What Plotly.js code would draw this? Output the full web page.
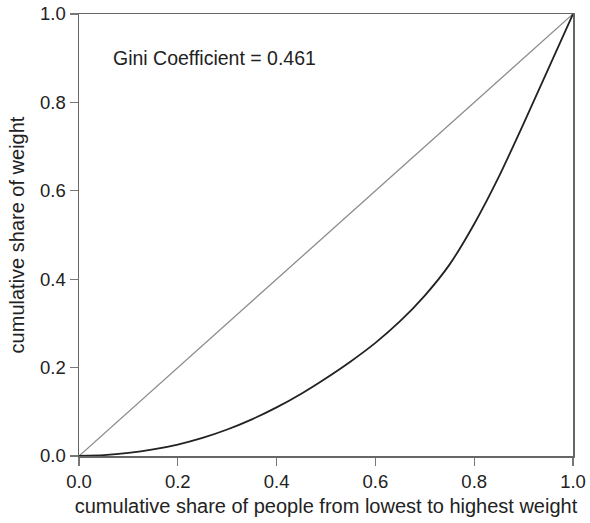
<!DOCTYPE html>
<html>
<head>
<meta charset="utf-8">
<script src="https://cdn.plot.ly/plotly-3.0.1.min.js"></script>
<style>html,body{margin:0;padding:0;background:#fff;}#chart{width:590px;height:523px;}</style>
</head>
<body>
<div id="chart"></div>
<script>
// Lorenz curve: cumulative share of people vs cumulative share of weight
const shareOfPeople = [0, 0.05, 0.1, 0.15, 0.2, 0.25, 0.3, 0.35, 0.4, 0.45, 0.5, 0.55, 0.6, 0.65, 0.7, 0.75, 0.8, 0.85, 0.9, 0.95, 1.0];
const shareOfWeight = [0, 0.002, 0.007, 0.015, 0.026, 0.041, 0.060, 0.083, 0.110, 0.141, 0.176, 0.214, 0.256, 0.305, 0.363, 0.433, 0.525, 0.632, 0.752, 0.876, 1.0];
const equalityX = [0, 1];
const equalityY = [0, 1];
const giniLabel = "Gini Coefficient = 0.461";
const tickVals = [0, 0.2, 0.4, 0.6, 0.8, 1.0];
const tickText = ["0.0", "0.2", "0.4", "0.6", "0.8", "1.0"];
const xTitle = "cumulative share of people from lowest to highest weight";
const yTitle = "cumulative share of weight";

const font = "Liberation Sans, Arial, Helvetica, sans-serif";

const traces = [
  {x: equalityX, y: equalityY, mode: "lines", line: {color: "#8c8c8c", width: 1.3}, hoverinfo: "skip"},
  {x: shareOfPeople, y: shareOfWeight, mode: "lines", line: {color: "#222222", width: 1.8, shape: "spline", smoothing: 0.6}, hoverinfo: "skip"}
];

const axisCommon = {
  range: [0, 1],
  showgrid: false,
  zeroline: false,
  showline: true,
  linecolor: "#666666",
  linewidth: 1.5,
  mirror: true,
  ticks: "outside",
  ticklen: 8,
  tickwidth: 1.2,
  tickcolor: "#777777",
  tickvals: tickVals,
  ticktext: tickText,
  tickfont: {family: font, size: 18.5, color: "#222222"},
  fixedrange: true
};

const layout = {
  width: 590,
  height: 523,
  margin: {l: 79, r: 17, t: 14, b: 67},
  paper_bgcolor: "#ffffff",
  plot_bgcolor: "#ffffff",
  showlegend: false,
  xaxis: Object.assign({}, axisCommon, {
    title: {text: xTitle, font: {family: font, size: 20, color: "#222222"}, standoff: 8}
  }),
  yaxis: Object.assign({}, axisCommon, {
    title: {text: yTitle, font: {family: font, size: 20, color: "#222222"}, standoff: 10}
  }),
  annotations: [{
    x: 0.064, y: 0.900, xref: "x", yref: "y",
    xanchor: "left", yanchor: "middle",
    text: giniLabel, showarrow: false,
    font: {family: font, size: 19.5, color: "#222222"}
  }]
};

Plotly.newPlot("chart", traces, layout, {staticPlot: true, displayModeBar: false});
</script>
</body>
</html>
